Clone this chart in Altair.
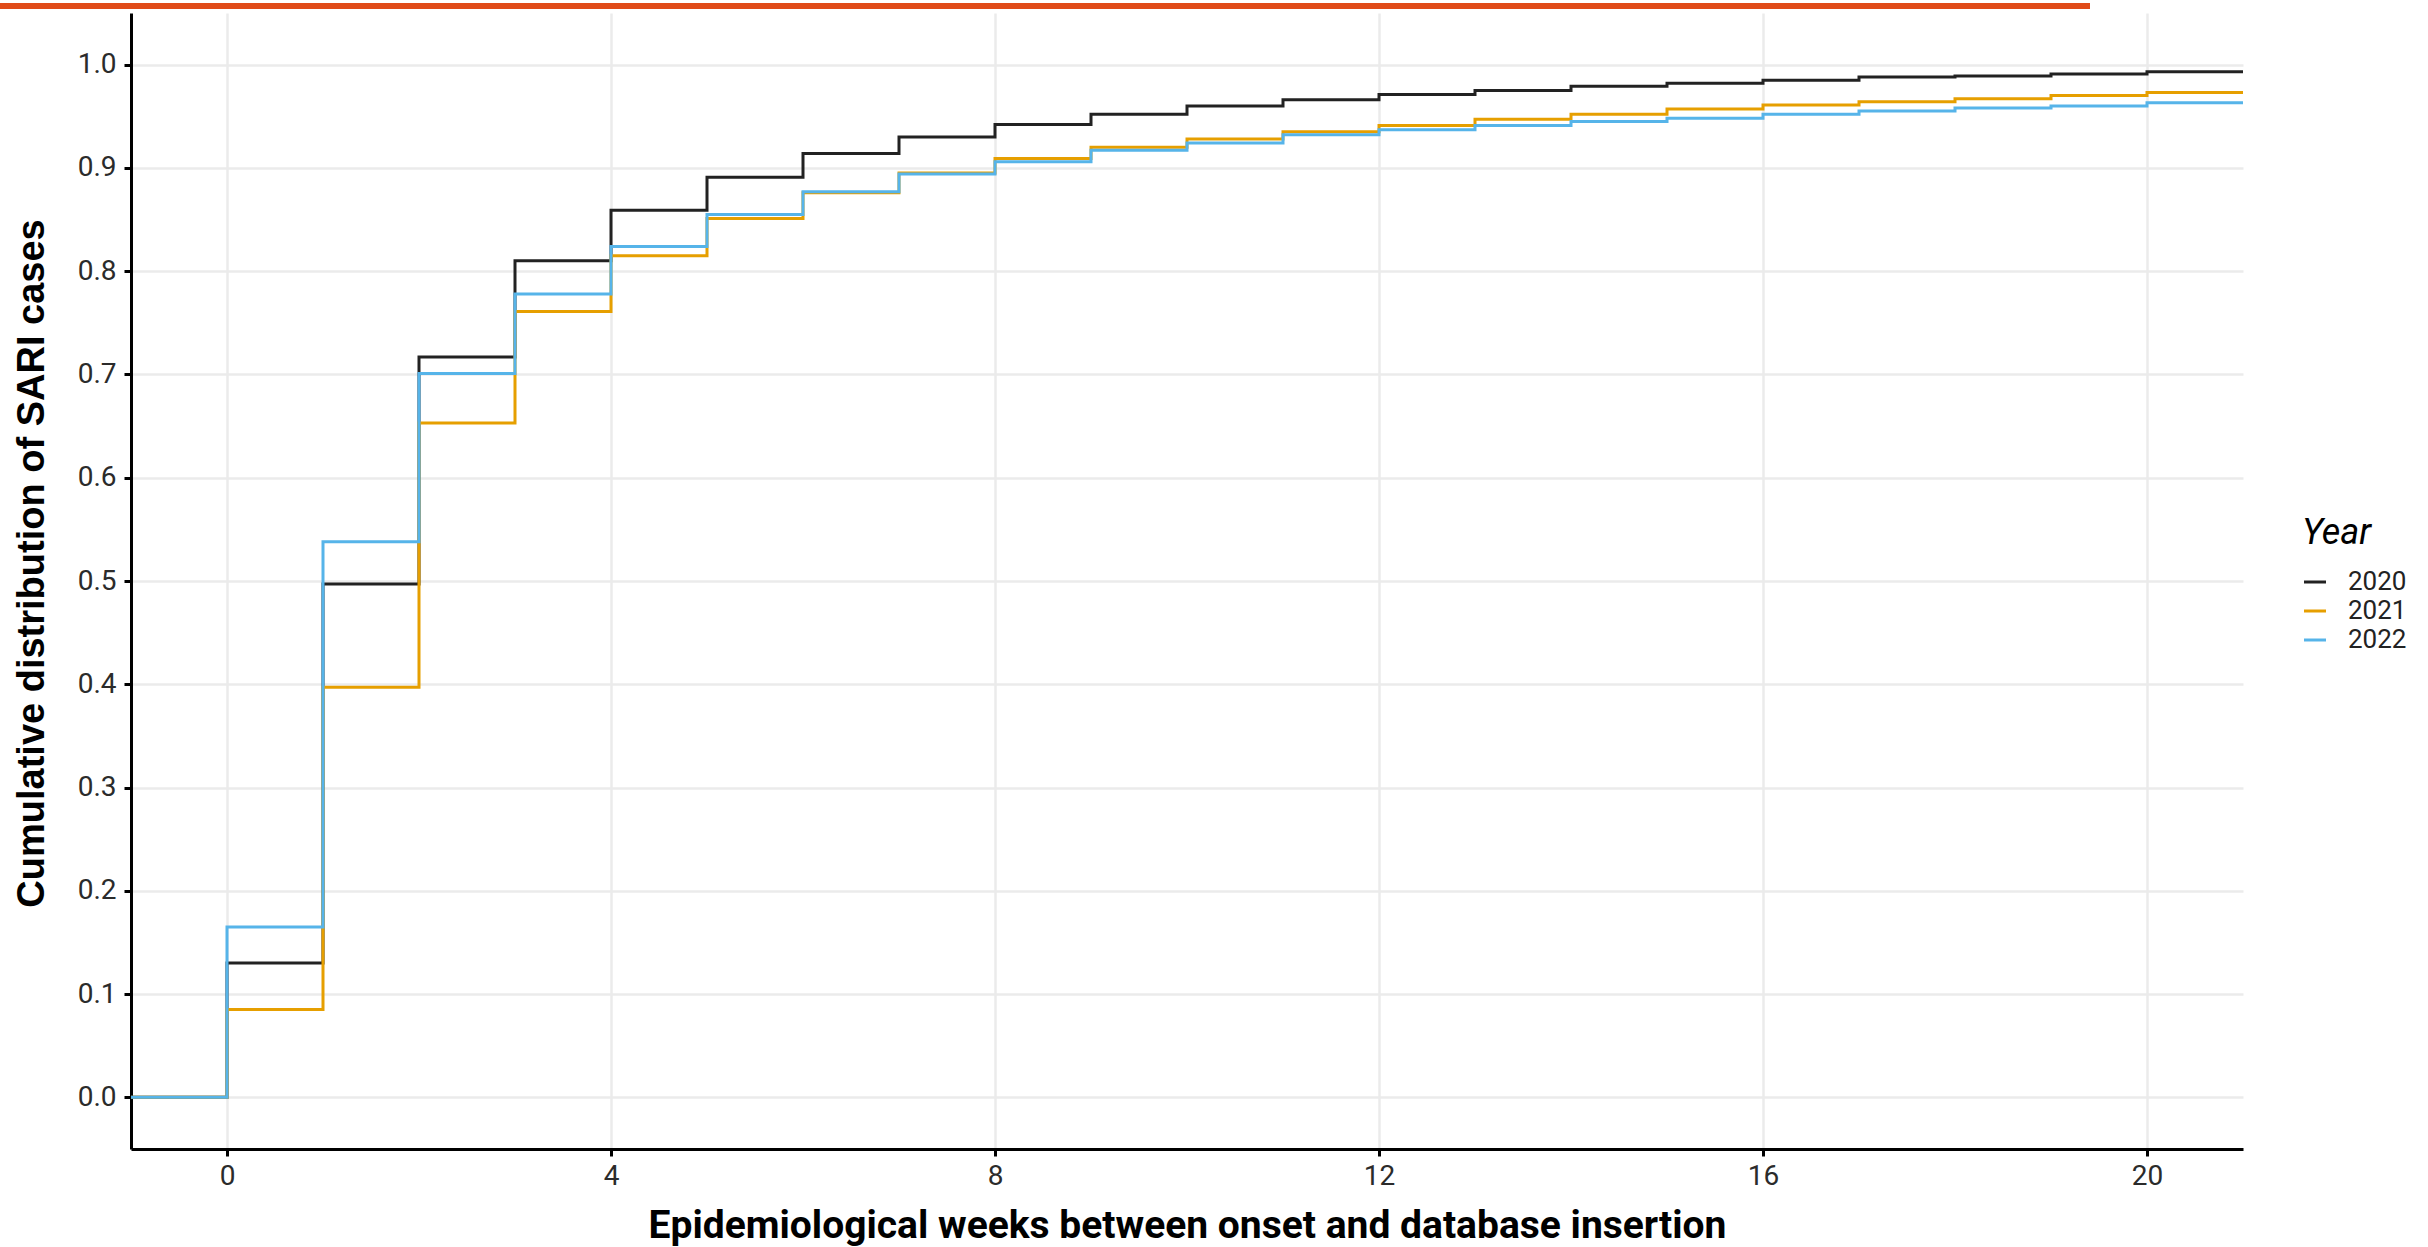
import altair as alt
import pandas as pd

# Weeks between onset and database insertion (padded by one week on each side)
weeks = list(range(-1, 22))
years = ["2020", "2021", "2022"]

# Cumulative share of SARI cases inserted by each week
cdf_2020 = [0.0, 0.130, 0.497, 0.717, 0.810, 0.859, 0.891, 0.914, 0.930, 0.942,
            0.952, 0.960, 0.966, 0.971, 0.975, 0.979, 0.982, 0.985, 0.988, 0.989,
            0.991, 0.993, 0.993]
cdf_2021 = [0.0, 0.085, 0.397, 0.653, 0.761, 0.815, 0.851, 0.876, 0.895, 0.909,
            0.920, 0.928, 0.935, 0.941, 0.947, 0.952, 0.957, 0.961, 0.964, 0.967,
            0.970, 0.973, 0.973]
cdf_2022 = [0.0, 0.165, 0.538, 0.701, 0.778, 0.824, 0.855, 0.877, 0.894, 0.906,
            0.917, 0.924, 0.932, 0.937, 0.941, 0.945, 0.948, 0.952, 0.955, 0.958,
            0.960, 0.963, 0.963]

x_ticks = [0, 4, 8, 12, 16, 20]
y_ticks = [0.0, 0.1, 0.2, 0.3, 0.4, 0.5, 0.6, 0.7, 0.8, 0.9, 1.0]
year_colors = ["#222222", "#E69F00", "#56B4E9"]

rows = []
for year, series in zip(years, [cdf_2020, cdf_2021, cdf_2022]):
    for w, v in zip(weeks, series):
        rows.append({"week": w, "share": v, "year": year})
df = pd.DataFrame(rows)

W, H = 2112, 1136

steps = alt.Chart(df).mark_line(interpolate="step-after", strokeWidth=3).encode(
    x=alt.X(
        "week:Q",
        scale=alt.Scale(domain=[-1, 21], nice=False, zero=False),
        axis=alt.Axis(
            values=x_ticks,
            title="Epidemiological weeks between onset and database insertion",
            titleFont="Roboto",
            titleFontWeight="bold",
            titleFontSize=39,
            titleColor="#000000",
            titleBaseline="alphabetic",
            titleY=88,
            labelPadding=6,
        ),
    ),
    y=alt.Y(
        "share:Q",
        scale=alt.Scale(domain=[-0.05, 1.05], nice=False, zero=False),
        axis=alt.Axis(
            values=y_ticks,
            format=".1f",
            title="Cumulative distribution of SARI cases",
            titleFont="Liberation Sans",
            titleFontWeight="bold",
            titleFontSize=38,
            titleColor="#000000",
            titleBaseline="alphabetic",
            titleX=-88,
            titleY=H / 2 - 18,
            labelPadding=8,
        ),
    ),
    color=alt.Color(
        "year:N",
        scale=alt.Scale(domain=years, range=year_colors),
        legend=alt.Legend(
            title="Year",
            orient="none",
            legendX=2171,
            legendY=503,
            padding=0,
            symbolType="stroke",
            symbolSize=484,
            symbolStrokeWidth=3,
            labelFont="Roboto",
            labelFontSize=26,
            labelColor="#222222",
            labelOffset=20,
            rowPadding=3,
            titleFont="Roboto",
            titleFontSize=36,
            titleFontStyle="italic",
            titleFontWeight="normal",
            titleColor="#000000",
            titlePadding=17,
        ),
    ),
)

# Accent bar across the top of the figure
accent = alt.Chart(pd.DataFrame({"k": [0]})).mark_rule(
    color="#E04B18", strokeWidth=6
).encode(x=alt.value(-131), x2=alt.value(1959), y=alt.value(-7))

chart = (
    alt.layer(steps, accent)
    .properties(
        width=W,
        height=H,
        autosize=alt.AutoSizeParams(type="none"),
        padding={"left": 131, "top": 13, "right": 185, "bottom": 98},
        background="white",
    )
    .configure_view(stroke=None)
    .configure_axis(
        domainColor="#000000",
        domainWidth=3,
        tickColor="#000000",
        tickWidth=3,
        tickSize=7,
        gridColor="#EBEBEB",
        gridWidth=2.5,
        labelFont="Roboto",
        labelFontSize=28,
        labelColor="#2b2b2b",
    )
)

chart.save("out.html", embed_options={"renderer": "svg", "actions": False})
